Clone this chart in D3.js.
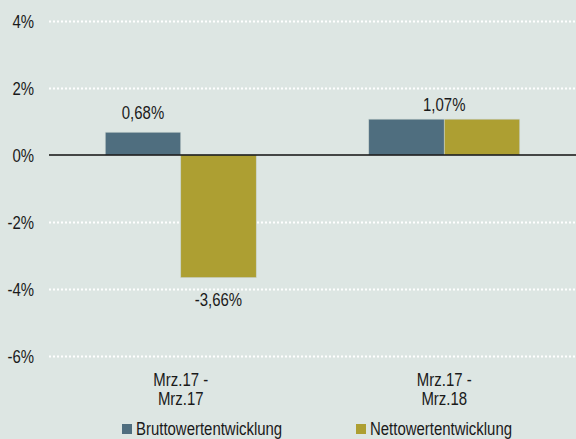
<!DOCTYPE html>
<html>
<head>
<meta charset="utf-8">
<script src="https://cdn.jsdelivr.net/npm/d3@7"></script>
<style>
  html, body { margin: 0; padding: 0; background: #dde6e3; }
  svg { display: block; }
  text { font-family: "Liberation Sans", Arial, sans-serif; fill: #1a1a1a; }
</style>
</head>
<body>
<svg id="chart" width="576" height="439"></svg>
<script>
// Periods and value development series (percent)
const categories = [["Mrz.17 -", "Mrz.17"], ["Mrz.17 -", "Mrz.18"]];
const seriesNames = ["Bruttowertentwicklung", "Nettowertentwicklung"];
const brutto = [0.68, 1.07];
const netto = [-3.66, 1.07];
const yTicks = [4, 2, 0, -2, -4, -6];
const colors = ["#4f6e7f", "#ad9f32"];

const W = 576, H = 439;
const margin = { left: 49, right: 0, top: 21, bottom: 83 };
const FS = 18;
const svg = d3.select("#chart");

svg.append("rect").attr("width", W).attr("height", H).attr("fill", "#dde6e3");

const y = d3.scaleLinear().domain([-6, 4]).range([H - margin.bottom, margin.top]);
const x0 = d3.scaleBand().domain(d3.range(categories.length))
  .range([margin.left, W - margin.right]).paddingInner(0).paddingOuter(0);
const groupW = 151;
const x1 = d3.scaleBand().domain(d3.range(seriesNames.length)).range([0, groupW]);

const fmt = v => d3.format(".2f")(v).replace(".", ",").replace("−", "-") + "%";

// Dotted gridlines
svg.append("g").selectAll("line").data(yTicks.filter(t => t !== 0)).join("line")
  .attr("x1", margin.left).attr("x2", W)
  .attr("y1", d => Math.round(y(d)) + 0.5).attr("y2", d => Math.round(y(d)) + 0.5)
  .attr("stroke", "#ffffff").attr("stroke-width", 2).attr("stroke-dasharray", "2,2");

// Y axis labels
const yAxis = d3.axisLeft(y).tickValues(yTicks).tickSize(0).tickPadding(0)
  .tickFormat(d => d + "%");
const gy = svg.append("g").attr("transform", `translate(34,0)`).call(yAxis);
gy.select(".domain").remove();
gy.selectAll("text").attr("font-size", FS).attr("fill", "#1a1a1a").attr("dy", "0.36em")
  .style("font-family", '"Liberation Sans", Arial, sans-serif');

const data = categories.map((c, i) => ({ i, values: [brutto[i], netto[i]] }));
const gx = i => x0(i) + (x0.bandwidth() - groupW) / 2;

// Bars
const groups = svg.append("g").selectAll("g").data(data).join("g")
  .attr("transform", d => `translate(${gx(d.i)},0)`);
groups.selectAll("rect").data(d => d.values.map((v, s) => ({ v, s }))).join("rect")
  .attr("x", d => x1(d.s))
  .attr("width", x1.bandwidth())
  .attr("y", d => y(Math.max(0, d.v)))
  .attr("height", d => Math.abs(y(d.v) - y(0)))
  .attr("fill", d => colors[d.s])
  .attr("stroke", "#c8d3cf").attr("stroke-width", 0.6);

// Zero line
svg.append("line").attr("x1", margin.left).attr("x2", W)
  .attr("y1", y(0)).attr("y2", y(0)).attr("stroke", "#111").attr("stroke-width", 1.3);

// Value labels
const labels = [
  { text: fmt(brutto[0]), x: gx(0) + x1(0) + x1.bandwidth() / 2, y: y(brutto[0]) - 13 },
  { text: fmt(netto[0]), x: gx(0) + x1(1) + x1.bandwidth() / 2, y: y(netto[0]) + 28 },
  { text: fmt(brutto[1]), x: x0(1) + x0.bandwidth() / 2, y: y(brutto[1]) - 8 }
];
svg.append("g").selectAll("text").data(labels).join("text")
  .attr("x", d => d.x).attr("y", d => d.y)
  .attr("text-anchor", "middle").attr("font-size", FS).text(d => d.text);

// Category labels, two lines each
const catLines = categories.flatMap((c, i) => c.map((t, j) => ({ t, i, j })));
svg.append("g").selectAll("text").data(catLines).join("text")
  .attr("x", d => x0(d.i) + x0.bandwidth() / 2)
  .attr("y", d => 386 + d.j * 19)
  .attr("text-anchor", "middle").attr("font-size", FS).text(d => d.t);

// Legend
const legendX = [122, 356];
const lg = svg.append("g").selectAll("g").data(seriesNames).join("g")
  .attr("transform", (d, i) => `translate(${legendX[i]},424)`);
lg.append("rect").attr("width", 10).attr("height", 10).attr("fill", (d, i) => colors[i]);
lg.append("text").attr("x", 14).attr("y", 11).attr("font-size", FS).text(d => d);

// Narrow the typeface horizontally
svg.selectAll("text").each(function () {
  const len = this.getComputedTextLength();
  if (len > 0) {
    d3.select(this).attr("textLength", len * 0.83).attr("lengthAdjust", "spacingAndGlyphs");
  }
});
</script>
</body>
</html>
